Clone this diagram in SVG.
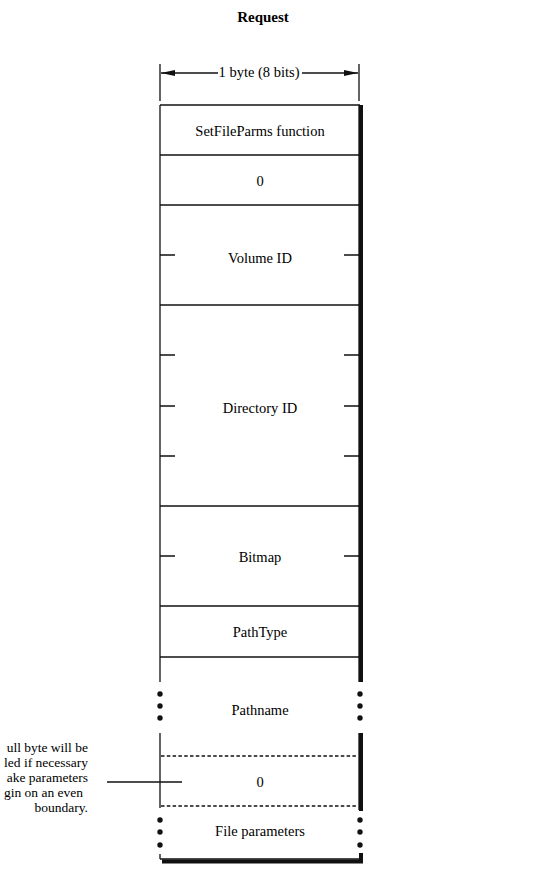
<svg xmlns="http://www.w3.org/2000/svg" width="560" height="878" viewBox="0 0 560 878">
<style>
  text { font-family: "Liberation Serif", "Times New Roman", serif; fill: #000; }
  .lbl { font-size: 14.5px; text-anchor: middle; }
  .title { font-size: 15px; font-weight: bold; text-anchor: middle; }
  .note { font-size: 13.5px; text-anchor: end; }
  .thin { stroke: #111; stroke-width: 1.3; fill: none; }
  .thick { stroke: #111; stroke-width: 4; fill: none; }
  .dash { stroke: #111; stroke-width: 1.3; fill: none; stroke-dasharray: 3.5 2.3; }
  .tick { stroke: #111; stroke-width: 1.5; fill: none; }
  .dot { fill: #111; }
</style>
<defs>
  <marker id="arr" viewBox="0 0 14 6" refX="14" refY="3" markerWidth="14" markerHeight="6" markerUnits="userSpaceOnUse" orient="auto">
    <path d="M0,0 L14,3 L0,6 Z" fill="#111"/>
  </marker>
</defs>

<text class="title" x="263" y="22">Request</text>

<g id="frame">
  <path class="thin" d="M160,105 V682 M160,733 V808 M160,854 V859"/>
  <path class="thin" d="M359,105 V682 M359,733 V810"/>
  <path class="thick" d="M361,105 V682 M361,733 V811 M361,853 V863"/>
  <path class="thin" d="M160,859 H360"/>
  <path class="thick" d="M162,861.5 H363"/>
  <path class="thin" d="M160,105 H360"/>
  <circle class="dot" cx="160" cy="694" r="2.7"/>
  <circle class="dot" cx="160" cy="706" r="2.7"/>
  <circle class="dot" cx="160" cy="718" r="2.7"/>
  <circle class="dot" cx="360" cy="694" r="2.7"/>
  <circle class="dot" cx="360" cy="706" r="2.7"/>
  <circle class="dot" cx="360" cy="718" r="2.7"/>
  <circle class="dot" cx="160" cy="820" r="2.7"/>
  <circle class="dot" cx="160" cy="832" r="2.7"/>
  <circle class="dot" cx="160" cy="845" r="2.7"/>
  <circle class="dot" cx="360" cy="820" r="2.7"/>
  <circle class="dot" cx="360" cy="832" r="2.7"/>
  <circle class="dot" cx="360" cy="845" r="2.7"/>
</g>

<g id="f-setfileparms">
  <text class="lbl" x="260" y="136">SetFileParms function</text>
  <path class="thin" d="M160,155 H359"/>
</g>
<g id="f-zero1">
  <text class="lbl" x="260" y="186">0</text>
  <path class="thin" d="M160,205 H359"/>
</g>
<g id="f-volume">
  <text class="lbl" x="260" y="263">Volume ID</text>
  <path class="tick" d="M160,255 H175 M344,255 H359"/>
  <path class="thin" d="M160,305 H359"/>
</g>
<g id="f-directory">
  <text class="lbl" x="260" y="413">Directory ID</text>
  <path class="tick" d="M160,355 H175 M344,355 H359 M160,406 H175 M344,406 H359 M160,456 H175 M344,456 H359"/>
  <path class="thin" d="M160,506 H359"/>
</g>
<g id="f-bitmap">
  <text class="lbl" x="260" y="562">Bitmap</text>
  <path class="tick" d="M160,556 H175 M344,556 H359"/>
  <path class="thin" d="M160,606 H359"/>
</g>
<g id="f-pathtype">
  <text class="lbl" x="260" y="637">PathType</text>
  <path class="thin" d="M160,657 H359"/>
</g>
<g id="f-pathname">
  <text class="lbl" x="260" y="715">Pathname</text>
  <path class="dash" d="M161,756 H358"/>
</g>
<g id="f-zero2">
  <text class="lbl" x="260" y="787">0</text>
  <path class="dash" d="M161,806 H358"/>
</g>
<g id="f-fileparams">
  <text class="lbl" x="260" y="836">File parameters</text>
</g>

<g id="note">
  <text class="note" x="88" y="752">ull byte will be</text>
  <text class="note" x="88" y="767">led if necessary</text>
  <text class="note" x="88" y="782">ake parameters</text>
  <text class="note" x="83" y="797">gin on an even</text>
  <text class="note" x="88" y="812">boundary.</text>
</g>

<g id="connectors">
  <path class="thin" d="M107,782 H182"/>
  <path class="thin" d="M160,64 V101 M359,64 V101"/>
  <path class="thin" d="M218,73 H161" marker-end="url(#arr)"/>
  <path class="thin" d="M302,73 H358" marker-end="url(#arr)"/>
  <text class="lbl" x="259" y="77">1 byte (8 bits)</text>
</g>
</svg>
